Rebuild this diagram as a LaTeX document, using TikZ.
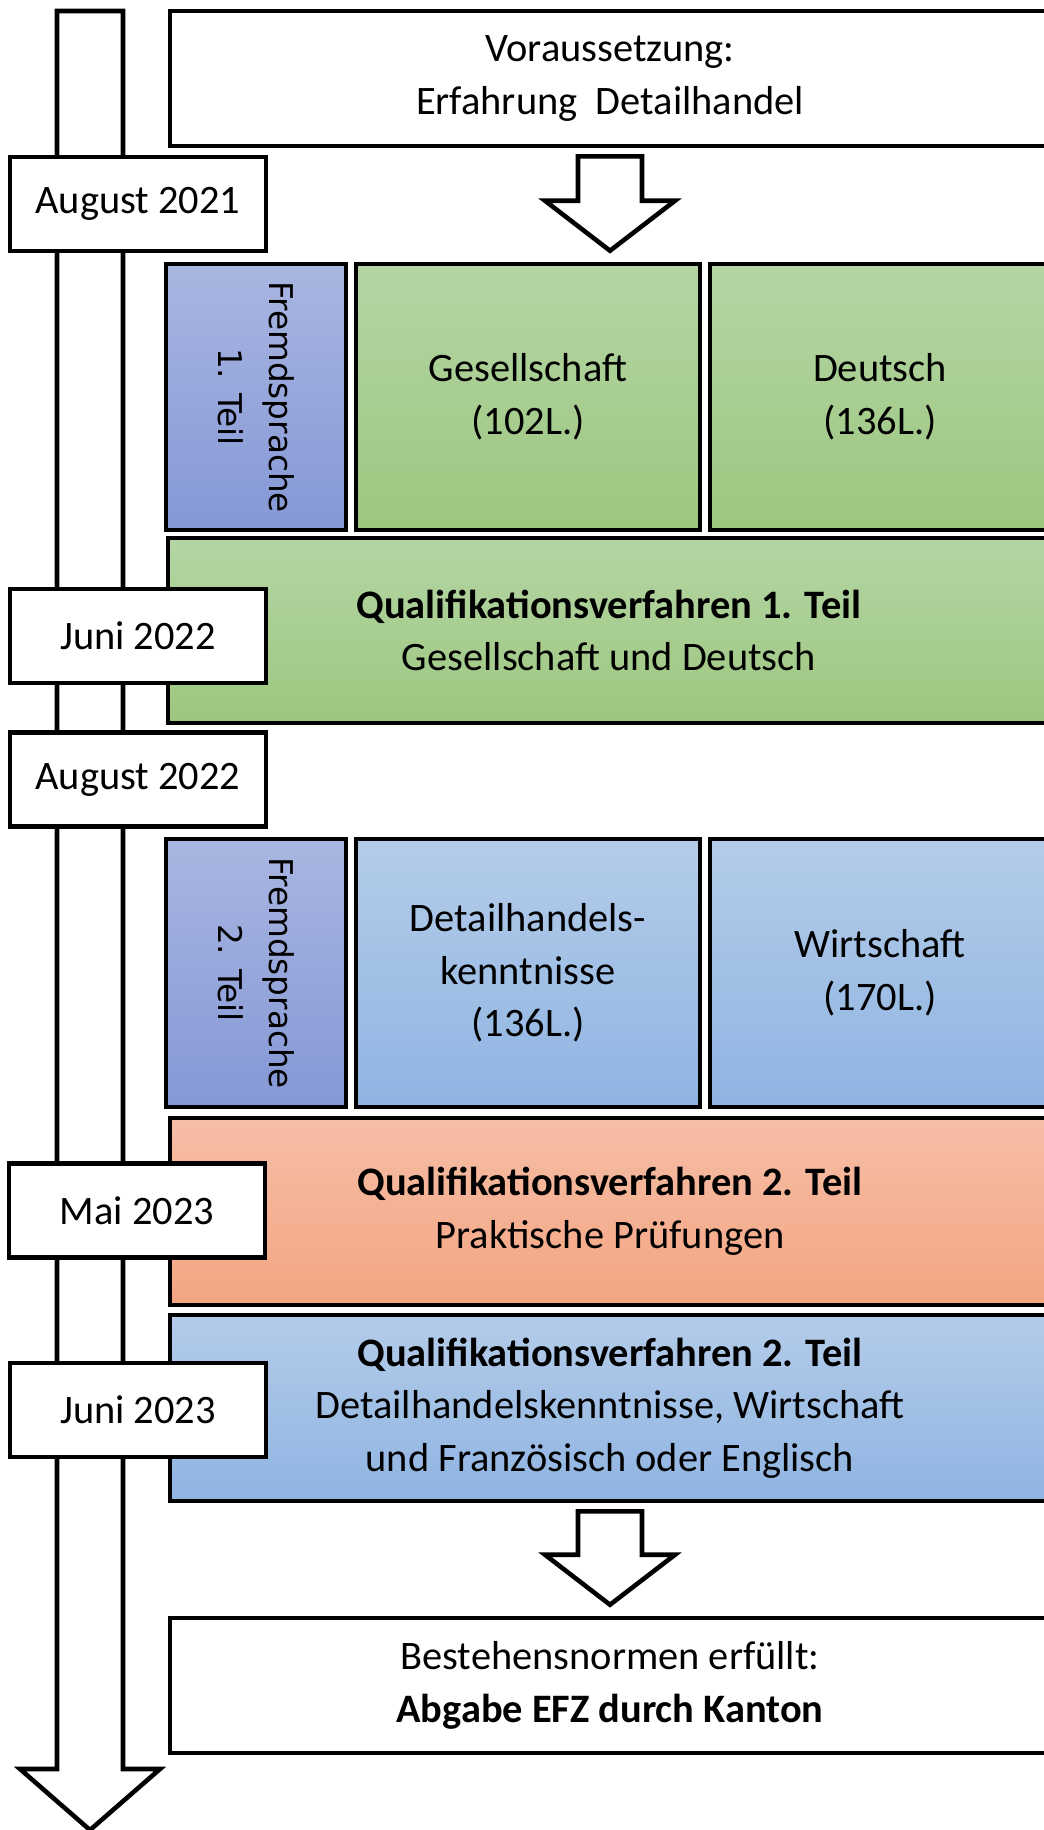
\documentclass[tikz,border=0pt]{standalone}
\usepackage{fontspec}
\setmainfont{Carlito}
\newfontfamily\fsfont{DejaVu Sans}
\usetikzlibrary{calc}

\definecolor{grtop}{HTML}{B4D5A4}
\definecolor{grbot}{HTML}{9DC77F}
\definecolor{bltop}{HTML}{B4CCE9}
\definecolor{blbot}{HTML}{8FB4E2}
\definecolor{fstop}{HTML}{A9B6E1}
\definecolor{fsbot}{HTML}{8598D6}
\definecolor{ortop}{HTML}{F6BEA6}
\definecolor{orbot}{HTML}{F4A582}

\tikzset{
  box/.style={draw, line width=1.3pt, align=center, inner sep=0pt, font=\fontsize{11.5}{15}\selectfont},
  datebox/.style={box, fill=white, minimum width=25.6mm, minimum height=9.4mm},
  greenbox/.style={box, top color=grtop, bottom color=grbot},
  bluebox/.style={box, top color=bltop, bottom color=blbot},
  fsbox/.style={box, top color=fstop, bottom color=fsbot, minimum width=18mm},
  fstext/.style={rotate=-90, align=center, inner sep=0pt, font=\fsfont\fontsize{9.3}{14.5}\selectfont},
  blockarrow/.style={draw, fill=white, line width=1.3pt}
}

\begin{document}
\begin{tikzpicture}[x=0.1mm, y=-0.1mm]
\useasboundingbox (0,0) rectangle (1043,1830);
%timeline
\coordinate (ttop) at (90,11);
\coordinate (ttip) at (90,1830);
\draw[blockarrow] ($(ttop)+(-33,0)$) -- ($(ttop)+(33,0)$) -- ($(ttip)+(33,-61)$) -- ($(ttip)+(70,-61)$)
  -- (ttip) -- ($(ttip)+(-70,-61)$) -- ($(ttip)+(-33,-61)$) -- cycle;

\node[box, minimum width=88mm, minimum height=13.5mm] (pre) at (610,78.5) {Voraussetzung:\\Erfahrung\ \ Detailhandel};

%first year
\node[fsbox, minimum height=26.6mm] (fs1) at (256,397) {};
\node[fstext] (fs1t) at (fs1) {Fremdsprache\\1. Teil};
\node[greenbox, minimum width=34.4mm, minimum height=26.6mm] (ges) at (528,397) {Gesellschaft\\(102L.)};
\node[greenbox, minimum width=34mm, minimum height=26.6mm] (deu) at (880,397) {Deutsch\\(136L.)};
\node[greenbox, minimum width=88.2mm, minimum height=18.5mm] (qv1) at (609,630.5)
  {\textbf{Qualifikationsverfahren 1. Teil}\\Gesellschaft und Deutsch};

%second year
\node[fsbox, minimum height=26.8mm] (fs2) at (256,973) {};
\node[fstext] (fs2t) at (fs2) {Fremdsprache\\2. Teil};
\node[bluebox, minimum width=34.4mm, minimum height=26.8mm] (dh) at (528,973) {Detailhandels-\\kenntnisse\\(136L.)};
\node[bluebox, minimum width=34mm, minimum height=26.8mm] (wi) at (880,973) {Wirtschaft\\(170L.)};
\node[box, top color=ortop, bottom color=orbot, minimum width=88mm, minimum height=18.7mm] (qv2a) at (610,1211.5)
  {\textbf{Qualifikationsverfahren 2. Teil}\\Praktische Prüfungen};
\node[bluebox, minimum width=88mm, minimum height=18.6mm] (qv2b) at (610,1408)
  {\textbf{Qualifikationsverfahren 2. Teil}\\Detailhandelskenntnisse, Wirtschaft\\und Französisch oder Englisch};

\node[box, minimum width=88mm, minimum height=13.5mm] (fin) at (610,1685.5)
  {Bestehensnormen erfüllt:\\\textbf{Abgabe EFZ durch Kanton}};

%dates
\node[datebox] (aug21) at (138,204) {August 2021};
\node[datebox] (jun22) at (138,636) {Juni 2022};
\node[datebox] (aug22) at (138,779.5) {August 2022};
\node[datebox] (mai23) at (137,1210.5) {Mai 2023};
\node[datebox] (jun23) at (138,1410) {Juni 2023};

%arrows between boxes
\coordinate (a1top) at ($(pre.south)+(0,8)$);
\coordinate (a1tip) at ($(pre.south |- ges.north)+(0,-11)$);
\draw[blockarrow] ($(a1top)+(-32,0)$) -- ($(a1top)+(32,0)$) -- ($(a1tip)+(32,-50)$) -- ($(a1tip)+(65,-50)$)
  -- (a1tip) -- ($(a1tip)+(-65,-50)$) -- ($(a1tip)+(-32,-50)$) -- cycle;
\coordinate (a2top) at ($(qv2b.south)+(0,8)$);
\coordinate (a2tip) at ($(qv2b.south |- fin.north)+(0,-11)$);
\draw[blockarrow] ($(a2top)+(-32,0)$) -- ($(a2top)+(32,0)$) -- ($(a2tip)+(32,-50)$) -- ($(a2tip)+(65,-50)$)
  -- (a2tip) -- ($(a2tip)+(-65,-50)$) -- ($(a2tip)+(-32,-50)$) -- cycle;
\end{tikzpicture}
\end{document}
